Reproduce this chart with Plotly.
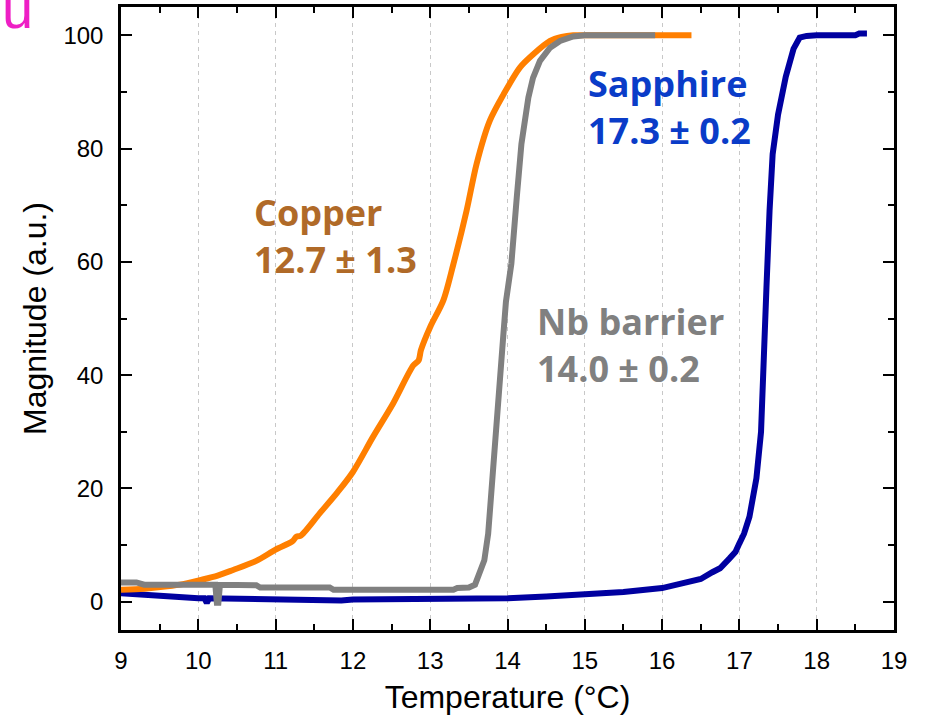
import plotly.graph_objects as go

# Copper
cu_x = [9.0, 9.3, 9.6, 9.8, 10.02, 10.25, 10.45, 10.75, 11.0, 11.22, 11.27, 11.32, 11.57, 11.8, 12.0,
        12.26, 12.52, 12.78, 12.85, 12.88, 13.0, 13.17, 13.3, 13.47, 13.6, 13.77, 13.95, 14.16, 14.33,
        14.55, 14.7, 14.85, 15.0, 15.5, 16.0, 16.38]
cu_y = [2.1, 2.3, 2.7, 3.1, 3.8, 4.6, 5.6, 7.2, 9.2, 10.7, 11.5, 11.6, 15.6, 19.3, 22.9,
        29.1, 35.0, 41.7, 42.6, 44.4, 48.5, 53.2, 59.6, 69.0, 77.3, 84.9, 89.6, 94.3, 96.6,
        99.0, 99.7, 100.0, 100.0, 100.0, 100.0, 100.0]

# Nb barrier
nb_x = [9.0, 9.2, 9.3, 9.5, 10.0, 10.22, 10.24, 10.26, 10.28, 10.5, 10.75, 10.8, 11.5, 11.7, 11.75,
        12.5, 13.0, 13.3, 13.35, 13.5, 13.58, 13.64, 13.70, 13.75, 13.81, 13.86, 13.90, 13.94, 13.98,
        14.05, 14.12, 14.18, 14.27, 14.33, 14.42, 14.55, 14.68, 14.85, 15.0, 15.5, 15.91]
nb_y = [3.4, 3.4, 3.0, 3.0, 3.0, 3.0, -0.2, -0.2, 3.0, 2.9, 2.9, 2.5, 2.5, 2.5, 2.1,
        2.1, 2.1, 2.1, 2.4, 2.5, 3.0, 5.0, 7.3, 12.0, 23.8, 32.6, 39.7, 46.0, 53.0,
        59.7, 71.4, 80.8, 89.0, 92.5, 95.5, 97.8, 99.0, 99.8, 100.0, 100.0, 100.0]

# Sapphire
sa_x = [9.0, 9.3, 9.5, 10.0, 10.08, 10.11, 10.14, 10.5, 11.0, 11.5, 11.85, 12.0, 12.5, 13.0, 13.5,
        14.0, 14.5, 15.0, 15.5, 16.0, 16.25, 16.5, 16.65, 16.75, 16.87, 16.95, 17.0, 17.06, 17.13,
        17.22, 17.28, 17.32, 17.35, 17.39, 17.43, 17.5, 17.6, 17.7, 17.78, 17.87, 18.0, 18.5, 18.55, 18.65]
sa_y = [1.5, 1.2, 0.9, 0.6, 0.6, -0.2, 0.6, 0.5, 0.4, 0.4, 0.2, 0.4, 0.4, 0.4, 0.4,
        0.6, 0.9, 1.2, 1.7, 2.4, 3.1, 4.0, 5.2, 5.9, 7.6, 8.8, 10.3, 12.0, 15.0,
        21.8, 30.0, 42.0, 55.5, 69.0, 79.0, 86.0, 92.7, 97.6, 99.6, 99.9, 100.0, 100.0, 100.3, 100.3]

label_names = ["Copper", "Nb barrier", "Sapphire"]
label_values = ["12.7 ± 1.3", "14.0 ± 0.2", "17.3 ± 0.2"]
label_x = [10.70, 14.36, 15.02]
label_y = [64.5, 45.4, 87.4]
label_colors = ["#B06A28", "#808080", "#0A3CC8"]

fig = go.Figure()
fig.add_trace(go.Scatter(x=sa_x, y=sa_y, mode="lines", line=dict(color="#0000A0", width=6), name="Sapphire"))
fig.add_trace(go.Scatter(x=cu_x, y=cu_y, mode="lines", line=dict(color="#FF7F00", width=6, shape="spline", smoothing=0.8),
                         name="Copper"))
fig.add_trace(go.Scatter(x=nb_x, y=nb_y, mode="lines", line=dict(color="#808080", width=6), name="Nb barrier"))

for n, v, x, y, c in zip(label_names, label_values, label_x, label_y, label_colors):
    fig.add_annotation(x=x, y=y, text="<b>" + n + "<br>" + v + "</b>", showarrow=False, xanchor="left",
                       yanchor="middle", align="left", font=dict(family="Open Sans", size=36, color=c))

fig.add_annotation(xref="paper", yref="paper", x=-0.1565, y=0.9977, text="u", showarrow=False,
                   xanchor="left", yanchor="middle", font=dict(family="Liberation Sans", size=56, color="#EE1FC5"))

axis_font = dict(family="Liberation Sans, Arial", size=24, color="black")
title_font = dict(family="Liberation Sans, Arial", size=32, color="black")
fig.update_xaxes(range=[9, 19], dtick=1, tick0=9, ticks="inside", ticklen=11, tickwidth=2, tickcolor="black",
                 minor=dict(dtick=0.5, ticks="inside", ticklen=6, tickwidth=2, tickcolor="black", showgrid=False),
                 showline=True, linewidth=2.5, linecolor="black", mirror="allticks",
                 showgrid=True, gridcolor="#c8c8c8", griddash="4px,4px", gridwidth=1, zeroline=False,
                 tickfont=axis_font, ticklabelstandoff=7,
                 title=dict(text="Temperature (°C)", font=title_font, standoff=14))
fig.update_yaxes(range=[-5, 105], dtick=20, tick0=0, ticks="inside", ticklen=11, tickwidth=2, tickcolor="black",
                 minor=dict(dtick=10, ticks="inside", ticklen=6, tickwidth=2, tickcolor="black", showgrid=False),
                 showline=True, linewidth=2.5, linecolor="black", mirror="allticks",
                 showgrid=False, zeroline=False, tickfont=axis_font, ticklabelstandoff=10,
                 title=dict(text="Magnitude (a.u.)", font=title_font, standoff=8))

fig.update_layout(width=932, height=722, margin=dict(l=121, r=38, t=7, b=92, autoexpand=False),
                  plot_bgcolor="white", paper_bgcolor="white", showlegend=False)

fig.write_html("out.html")
